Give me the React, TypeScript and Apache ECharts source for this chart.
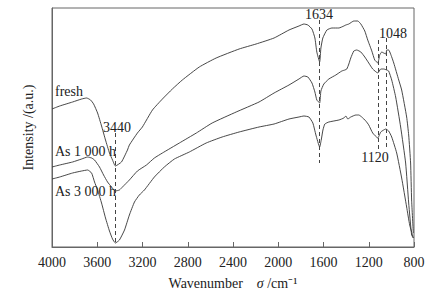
import React, { useEffect, useRef } from "react";
import * as echarts from "echarts";

// Wavenumber (cm^-1), intensity (a.u., arbitrary scale 0-239)
const freshData: [number, number][] = [
  [4000, 138], [3932, 141], [3818, 145], [3738, 148], [3694, 149], [3659, 147],
  [3632, 143], [3597, 134], [3562, 121], [3527, 107], [3492, 94], [3465, 87],
  [3440, 81], [3386, 85], [3333, 97], [3316, 102], [3245, 114], [3201, 120],
  [3112, 137], [3024, 148], [2936, 158], [2848, 167], [2698, 180], [2549, 189],
  [2346, 198], [2196, 203], [2037, 209], [1905, 217], [1817, 221], [1773, 223],
  [1738, 222], [1702, 218], [1676, 209], [1659, 195], [1634, 185], [1623, 199],
  [1606, 209], [1570, 217], [1526, 219], [1464, 219], [1420, 221], [1403, 222],
  [1376, 223], [1332, 226], [1297, 226], [1270, 223], [1235, 216], [1209, 207],
  [1173, 196], [1147, 187], [1120, 184], [1103, 192], [1085, 195], [1068, 194],
  [1048, 193], [1041, 197], [1024, 197], [997, 190], [979, 184], [935, 167],
  [909, 157], [865, 130], [847, 112], [830, 84], [821, 47], [806, 14],
];

const h1000Data: [number, number][] = [
  [4000, 80], [3932, 82], [3818, 85], [3738, 88], [3685, 90], [3650, 89],
  [3624, 87], [3580, 80], [3544, 72], [3509, 65], [3474, 60], [3440, 56],
  [3404, 57], [3377, 60], [3316, 67], [3245, 76], [3165, 82], [3095, 89],
  [3024, 94], [2874, 104], [2724, 114], [2584, 124], [2372, 135], [2170, 145],
  [2037, 154], [1905, 162], [1817, 168], [1773, 171], [1738, 170], [1702, 164],
  [1676, 155], [1659, 147], [1634, 144], [1623, 156], [1597, 163], [1553, 168],
  [1491, 172], [1438, 176], [1411, 177], [1394, 178], [1376, 183], [1359, 189],
  [1332, 196], [1306, 197], [1270, 195], [1235, 190], [1200, 184], [1165, 178],
  [1120, 174], [1094, 178], [1068, 178], [1041, 177], [1024, 176], [997, 167],
  [962, 150], [918, 120], [874, 84], [847, 44], [821, 12], [806, 9],
];

const h3000Data: [number, number][] = [
  [4000, 68], [3932, 70], [3818, 74], [3738, 76], [3685, 77], [3650, 74],
  [3624, 65], [3597, 57], [3562, 44], [3527, 29], [3492, 16], [3465, 8],
  [3440, 4], [3404, 7], [3359, 17], [3316, 32], [3271, 45], [3228, 52],
  [3183, 57], [3095, 70], [3007, 80], [2918, 88], [2786, 95], [2637, 104],
  [2496, 110], [2346, 115], [2170, 120], [2037, 123], [1905, 128], [1817, 130],
  [1773, 131], [1729, 130], [1694, 124], [1667, 112], [1634, 100], [1620, 107],
  [1605, 117], [1588, 123], [1553, 125], [1464, 127], [1420, 129], [1403, 131],
  [1385, 128], [1359, 130], [1314, 132], [1288, 132], [1262, 130], [1226, 126],
  [1200, 122], [1165, 114], [1120, 109], [1094, 115], [1068, 117], [1050, 118],
  [1024, 116], [997, 110], [953, 94], [909, 69], [865, 40], [838, 22], [806, 9],
];

// Peak marker lines: [wavenumber, top intensity, bottom intensity]
const peakLines: [number, number, number][] = [
  [3440, 114, 5],
  [1634, 227, 84],
  [1120, 207, 97],
  [1048, 209, 98],
];

const seriesNames = ["fresh", "As 1 000 h", "As 3 000 h"];
const peakLabels = ["3440", "1634", "1120", "1048"];

const FONT = "'Liberation Serif', 'Times New Roman', serif";

export default function App() {
  const ref = useRef<HTMLDivElement>(null);
  useEffect(() => {
    document.body.style.margin = "0";
    if (!ref.current) return;
    const chart = echarts.init(ref.current, undefined, { renderer: "svg" });
    const lineColor = "#333";
    const mkSeries = (name: string, data: [number, number][], withMarks: boolean) => ({
      name,
      type: "line",
      data,
      showSymbol: false,
      symbol: "none",
      smooth: 0.15,
      lineStyle: { color: lineColor, width: 0.9 },
      markLine: withMarks
        ? {
            silent: true,
            symbol: ["none", "none"],
            label: { show: false },
            lineStyle: { color: "#444", type: [4, 3], width: 1 },
            data: peakLines.map(([w, top, bottom]) => [
              { coord: [w, top] },
              { coord: [w, bottom] },
            ]),
          }
        : undefined,
    });
    const txt = (text: string, x: number, y: number, align: string) => ({
      type: "text",
      x,
      y,
      style: {
        text,
        fill: "#222",
        font: `14px ${FONT}`,
        textAlign: align,
        textVerticalAlign: "middle",
      },
    });
    chart.setOption({
      animation: false,
      grid: {
        left: 52,
        right: 26,
        top: 8,
        bottom: 52,
        show: true,
        borderColor: "#666",
        borderWidth: 1,
      },
      xAxis: {
        type: "value",
        min: 800,
        max: 4000,
        interval: 400,
        inverse: true,
        name: "Wavenumber    {i|σ} /cm⁻¹",
        nameLocation: "middle",
        nameGap: 29,
        nameTextStyle: {
          fontFamily: FONT,
          fontSize: 14,
          color: "#222",
          rich: { i: { fontFamily: FONT, fontSize: 14, fontStyle: "italic", color: "#222" } },
        },
        axisLine: { lineStyle: { color: "#666" } },
        axisTick: { inside: true, length: 5, lineStyle: { color: "#666" } },
        axisLabel: {
          fontFamily: FONT,
          fontSize: 14,
          color: "#222",
          margin: 8,
          formatter: (v: number) => String(v),
        },
        splitLine: { show: false },
      },
      yAxis: {
        type: "value",
        min: 0,
        max: 239,
        name: "Intensity /(a.u.)",
        nameLocation: "middle",
        nameGap: 17,
        nameTextStyle: { fontFamily: FONT, fontSize: 14, color: "#222" },
        axisLine: { show: true, lineStyle: { color: "#666" } },
        axisTick: { show: false },
        axisLabel: { show: false },
        splitLine: { show: false },
      },
      series: [
        mkSeries(seriesNames[0], freshData, true),
        mkSeries(seriesNames[1], h1000Data, false),
        mkSeries(seriesNames[2], h3000Data, false),
      ],
      graphic: [
        txt(seriesNames[0], 55, 91, "left"),
        txt(seriesNames[1], 55, 151, "left"),
        txt(seriesNames[2], 55, 191, "left"),
        txt(peakLabels[0], 117, 127, "center"),
        txt(peakLabels[1], 319, 14, "center"),
        txt(peakLabels[2], 375, 157, "center"),
        txt(peakLabels[3], 393, 33, "center"),
      ],
    });
    return () => chart.dispose();
  }, []);
  return <div ref={ref} style={{ width: 440, height: 299 }} />;
}
